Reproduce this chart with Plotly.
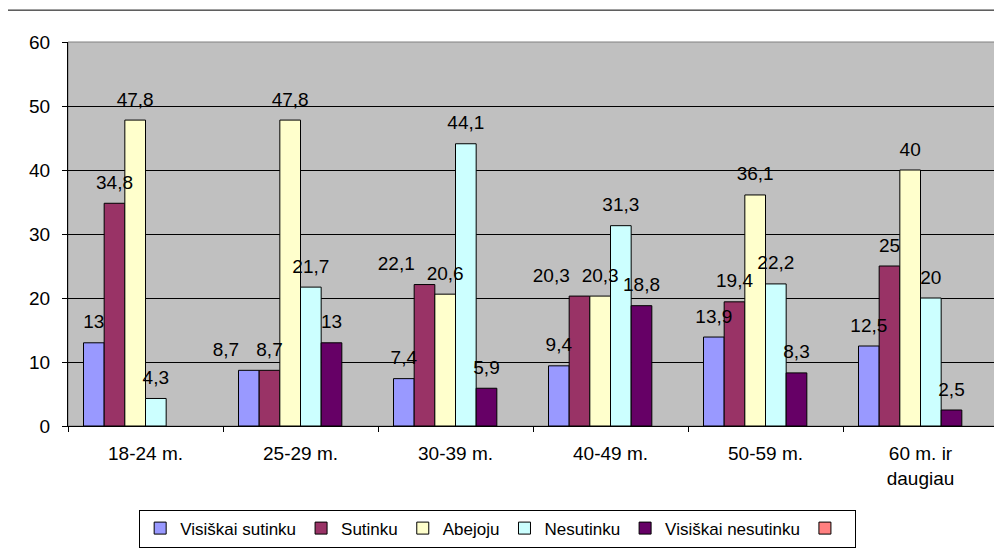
import plotly.graph_objects as go

# Duomenys (nuskaityti nuo paveikslo)
categories = ["18-24 m.", "25-29 m.", "30-39 m.", "40-49 m.", "50-59 m.", "60 m. ir<br>daugiau"]

visiskai_sutinku = [13, 8.7, 7.4, 9.4, 13.9, 12.5]
sutinku = [34.8, 8.7, 22.1, 20.3, 19.4, 25]
abejoju = [47.8, 47.8, 20.6, 20.3, 36.1, 40]
nesutinku = [4.3, 21.7, 44.1, 31.3, 22.2, 20]
visiskai_nesutinku = [None, 13, 5.9, 18.8, 8.3, 2.5]
tuscia = [None, None, None, None, None, None]

series_names = ["Visiškai sutinku", "Sutinku", "Abejoju", "Nesutinku", "Visiškai nesutinku", " "]
series_values = [visiskai_sutinku, sutinku, abejoju, nesutinku, visiskai_nesutinku, tuscia]

# etiketes, kurios originale pastumtos i kaire (kad nesidengtu)
shifted_labels = {("Visiškai sutinku", "25-29 m."), ("Sutinku", "30-39 m."), ("Sutinku", "40-49 m.")}

# klasikine Excel palete
excel_palette = ['#9999FF', '#993366', '#FFFFCC', '#CCFFFF', '#660066', '#FF8080']

FONT = "Liberation Sans, Arial, sans-serif"


def fmt(v):
    if v is None:
        return ""
    return ("%g" % v).replace('.', ',')


fig = go.Figure()

for name, vals, col in zip(series_names, series_values, excel_palette):
    fig.add_trace(go.Bar(x=categories, y=vals, name=name, marker_color=col,
                         marker_line_color='black', marker_line_width=1))

# duomenu etiketes - atskiri scatter, kad butu virs visu stulpeliu
for name, vals in zip(series_names, series_values):
    positions = ['top left' if (name, c) in shifted_labels else 'top center' for c in categories]
    fig.add_trace(go.Scatter(x=categories, y=vals, mode='markers+text',
                             text=[fmt(v) for v in vals], textposition=positions,
                             textfont=dict(size=19, color='black', family=FONT),
                             marker=dict(size=14, opacity=0), showlegend=False,
                             hoverinfo='skip', cliponaxis=False))

# puslapis turi 8px paraste, todel figura mazesne
fig.update_layout(
    width=994, height=543,
    margin=dict(l=60, r=4, t=34, b=120),
    paper_bgcolor='white', plot_bgcolor='#C0C0C0',
    barmode='group', bargap=0.2, bargroupgap=0,
    scattermode='group', scattergap=0.2,
    font=dict(family=FONT, size=19, color='black'),
    showlegend=True,
    legend=dict(orientation='h', x=0.462, xanchor='center', y=-0.2176, yanchor='top',
                bordercolor='black', borderwidth=1, bgcolor='white',
                font=dict(size=17), itemwidth=30, tracegroupgap=0),
)

fig.update_yaxes(range=[0, 60], dtick=10, showgrid=True, gridcolor='black', gridwidth=1,
                 ticks='outside', ticklen=5, tickcolor='black', showline=True,
                 linecolor='black', linewidth=1, zeroline=False, ticklabelstandoff=8,
                 tickfont=dict(size=19))
fig.update_xaxes(ticks='outside', ticklen=5, tickcolor='black', tickson='boundaries',
                 showline=True, linecolor='black', linewidth=1, showgrid=False,
                 ticklabelstandoff=10, tickfont=dict(size=19))

# plotas apvestas pilkai
fig.add_shape(type='rect', xref='paper', yref='paper', x0=0, x1=1, y0=0, y1=1,
              line=dict(color='#808080', width=1), layer='below')
# isorinis diagramos remelis
fig.add_shape(type='rect', xref='paper', yref='paper', x0=-0.0667, x1=1.2, y0=-0.4, y1=1.083,
              line=dict(color='black', width=1))

fig.write_html("out.html")
